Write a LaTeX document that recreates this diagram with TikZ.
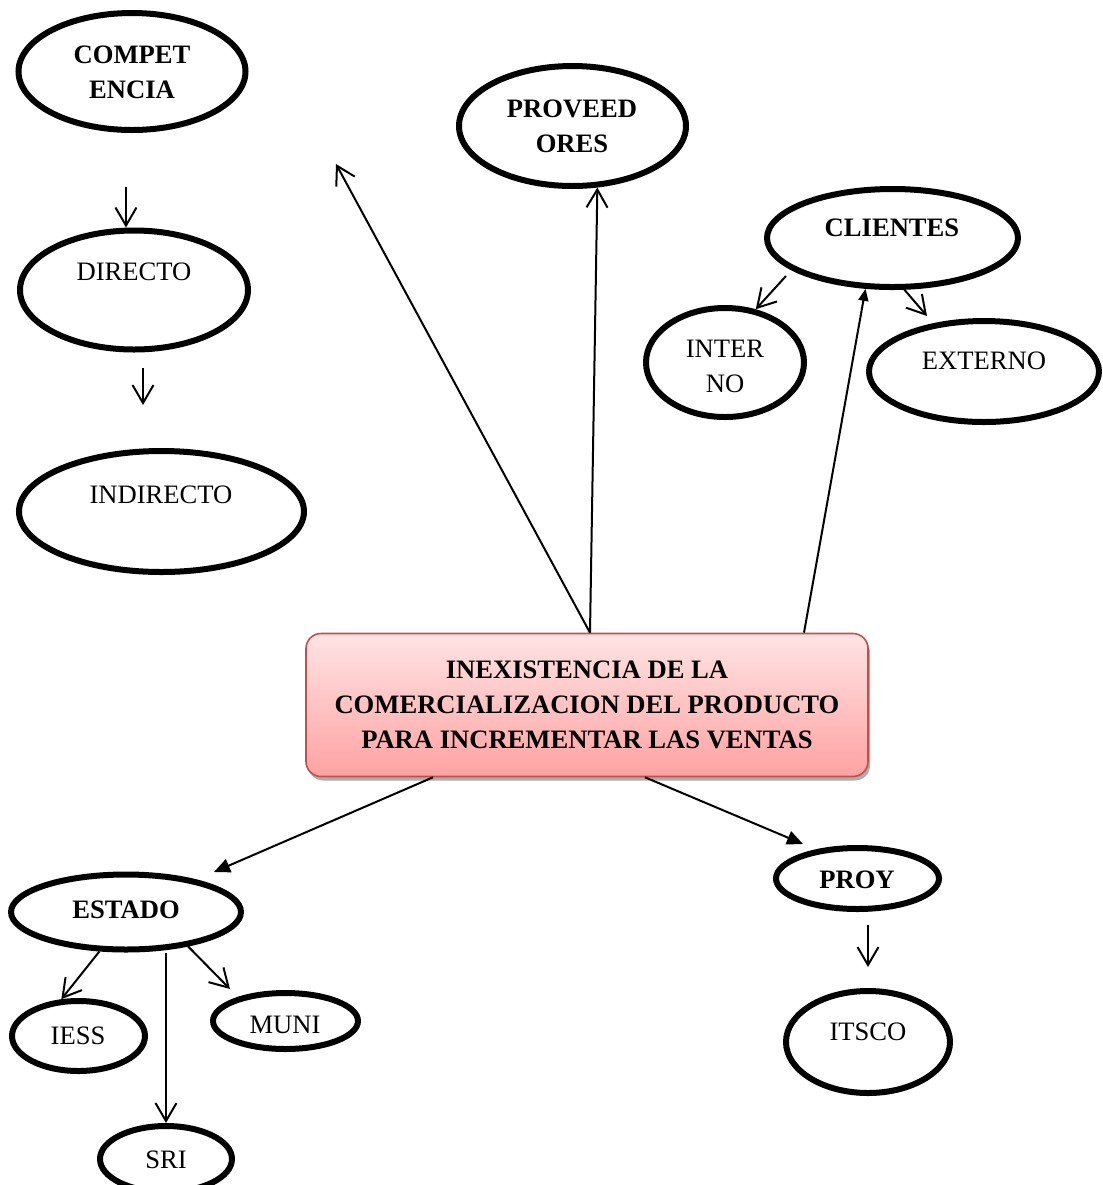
\documentclass[tikz,border=0pt]{standalone}
\usepackage{fontspec}
\setmainfont{Liberation Serif}
\usetikzlibrary{shapes,arrows.meta,positioning,calc,shadows}

\definecolor{boxtop}{RGB}{255,228,228}
\definecolor{boxbot}{RGB}{255,162,162}
\definecolor{boxline}{RGB}{192,80,77}

\begin{document}
\begin{tikzpicture}[
    x=0.5pt, y=-0.5pt,
    oval/.style={ellipse, draw, line width=3pt, inner sep=0pt},
    word/.style={font=\fontsize{13.3}{17.5}\selectfont, align=center, inner sep=0pt},
    bword/.style={word, font=\fontsize{13.3}{17.5}\selectfont\bfseries},
    mainbox/.style={rectangle, rounded corners=7.5pt, draw=boxline, line width=0.8pt,
        top color=boxtop, bottom color=boxbot, minimum width=281pt, minimum height=71.5pt,
        drop shadow={shadow xshift=1pt, shadow yshift=-2pt, fill=black!45, opacity=0.7},
        font=\fontsize{13.3}{17.5}\selectfont\bfseries, align=center},
    barb/.style={-{Straight Barb[length=9pt,width=10.5pt]}, line width=1pt},
    tri/.style={-{Triangle[length=8pt,width=7pt]}, line width=1pt}
]
\useasboundingbox (0,0) rectangle (1103,1185);

% Central problem
\node[mainbox] (box) at (587,705) {INEXISTENCIA DE LA\\COMERCIALIZACION DEL PRODUCTO\\PARA INCREMENTAR LAS VENTAS};

% Competencia
\node[oval, minimum width=113.5pt, minimum height=58.5pt] (comp) at (132,71.5) {};
\node[bword] (comp-t) at (132,72.5) {COMPET\\ENCIA};
\node[oval, minimum width=114pt, minimum height=59.5pt] (dir) at (134,290) {};
\node[word] (dir-t) at (134,272) {DIRECTO};
\node[oval, minimum width=142.5pt, minimum height=60.5pt] (indir) at (161.5,511.5) {};
\node[word] (indir-t) at (161,495) {INDIRECTO};

% Proveedores
\node[oval, minimum width=113.5pt, minimum height=60pt] (prov) at (572.5,126) {};
\node[bword] (prov-t) at (572,126.5) {PROVEED\\ORES};

% Clientes
\node[oval, minimum width=125.5pt, minimum height=49pt] (cli) at (892.5,238) {};
\node[bword] (cli-t) at (892,228) {CLIENTES};
\node[oval, minimum width=79pt, minimum height=54.5pt] (inter) at (725,362.5) {};
\node[word] (inter-t) at (725,366.5) {INTER\\NO};
\node[oval, minimum width=115pt, minimum height=50.5pt] (exter) at (984,371.5) {};
\node[word] (exter-t) at (984,361) {EXTERNO};

% Estado
\node[oval, minimum width=115pt, minimum height=37.5pt] (estado) at (126,912) {};
\node[bword] (estado-t) at (126,910) {ESTADO};
\node[oval, minimum width=66.5pt, minimum height=35pt] (iess) at (78.5,1036) {};
\node[word] (iess-t) at (78,1036) {IESS};
\node[oval, minimum width=72.5pt, minimum height=28pt] (muni) at (285.5,1021) {};
\node[word] (muni-t) at (285,1025) {MUNI};
\node[oval, minimum width=66pt, minimum height=33pt] (sri) at (166,1159) {};
\node[word] (sri-t) at (166,1160) {SRI};

% Proyecto
\node[oval, minimum width=81.5pt, minimum height=30.5pt] (proy) at (857.5,878.5) {};
\node[bword] (proy-t) at (857,880) {PROY};
\node[oval, minimum width=82pt, minimum height=51pt] (itsco) at (868,1042) {};
\node[word] (itsco-t) at (868,1032) {ITSCO};

% Free ends
\coordinate (comp-out) at (126,187);
\coordinate (dir-out) at (143,368);
\coordinate (indir-in) at (143,405);
\coordinate (loose) at (336,164);
\coordinate (cli-out) at (786,276);
\coordinate (ext-in) at (927,316);
\coordinate (est-in) at (214,872);
\coordinate (proy-in) at (803,844);
\coordinate (muni-in) at (230,989);
\coordinate (proy-out) at (868,925);
\coordinate (itsco-in) at (868,967);

% Arrows
\draw[barb] (comp-out) -- (comp-out |- dir.north);
\draw[barb] (dir-out) -- (indir-in);
\draw[barb] ([xshift=1.5pt]box.north) -- (loose);
\draw[barb] ([xshift=1.5pt]box.north) -- (prov.-68);
\draw[tri, -{Triangle[length=6pt,width=5pt]}] ([xshift=108.5pt]box.north) -- (cli.-118);
\draw[barb] (cli-out) -- (inter.60);
\draw[barb] (cli.-77) -- (ext-in);
\draw[tri] ([xshift=-77pt]box.south) -- (est-in);
\draw[tri] ([xshift=29pt]box.south) -- (proy-in);
\draw[barb] (estado.-124) -- (iess.115);
\draw[barb] (sri.north |- estado.south) -- (sri.north);
\draw[barb] (estado.-29) -- (muni-in);
\draw[barb] (proy-out) -- (itsco-in);

\end{tikzpicture}
\end{document}
